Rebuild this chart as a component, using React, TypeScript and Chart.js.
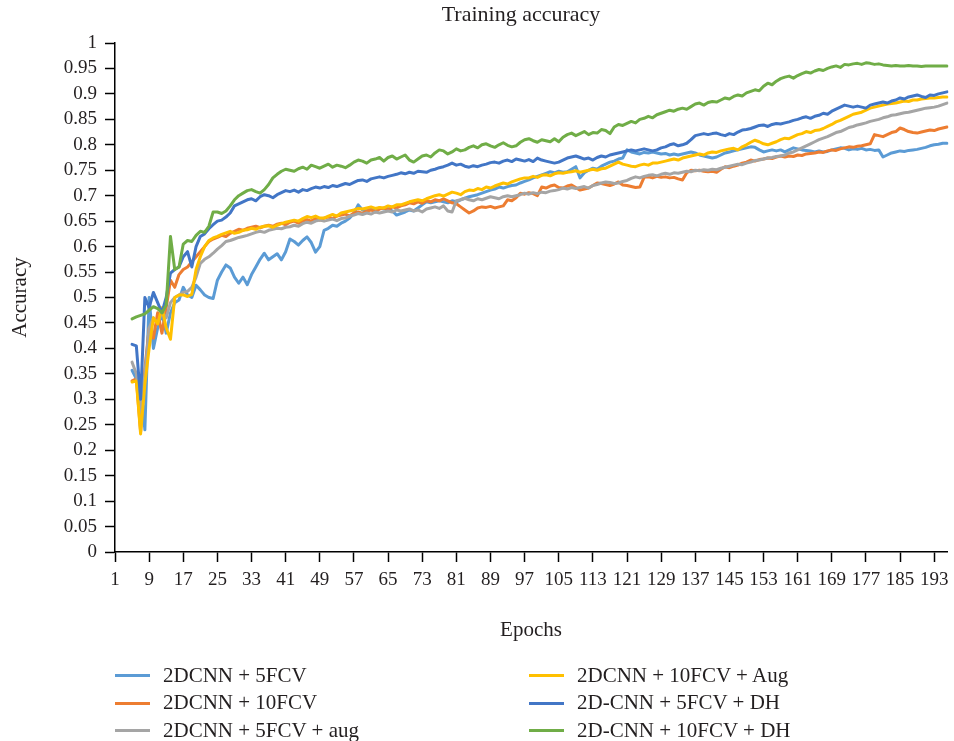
import React, { useEffect, useRef } from "react";
import { Chart, registerables } from "chart.js";

Chart.register(...registerables);

const TITLE = "Training accuracy";
const X_TITLE = "Epochs";
const Y_TITLE = "Accuracy";
const EPOCH_COUNT = 196;
const START_EPOCH = 5;
const EPOCH_LABELS = Array.from({ length: EPOCH_COUNT }, (_, i) => String(i + 1));

const SERIES_NAMES = [
  "2DCNN + 5FCV",
  "2DCNN + 10FCV",
  "2DCNN + 5FCV + aug",
  "2DCNN + 10FCV + Aug",
  "2D-CNN + 5FCV + DH",
  "2D-CNN + 10FCV + DH",
];
const SERIES_COLORS = ["#5B9BD5", "#ED7D31", "#A5A5A5", "#FFC000", "#4276C6", "#70AD47"];

// values for epochs 5..196
const CNN_5FCV = [
  0.357, 0.340, 0.330, 0.240, 0.500, 0.400, 0.440, 0.470, 0.430, 0.470,
  0.490, 0.495, 0.520, 0.505, 0.500, 0.524, 0.515, 0.505, 0.500, 0.498,
  0.534, 0.550, 0.564, 0.558, 0.540, 0.528, 0.540, 0.525, 0.545, 0.560,
  0.575, 0.587, 0.574, 0.580, 0.586, 0.574, 0.590, 0.615, 0.610, 0.603,
  0.612, 0.619, 0.608, 0.589, 0.600, 0.632, 0.636, 0.642, 0.640, 0.646,
  0.650, 0.656, 0.665, 0.682, 0.672, 0.670, 0.675, 0.672, 0.676, 0.674,
  0.675, 0.670, 0.662, 0.665, 0.668, 0.672, 0.670, 0.676, 0.682, 0.688,
  0.686, 0.688, 0.690, 0.688, 0.686, 0.690, 0.688, 0.692, 0.695, 0.698,
  0.700, 0.702, 0.705, 0.708, 0.711, 0.713, 0.717, 0.715, 0.718, 0.720,
  0.721, 0.725, 0.728, 0.731, 0.735, 0.738, 0.741, 0.744, 0.747, 0.745,
  0.748, 0.746, 0.747, 0.752, 0.757, 0.735, 0.745, 0.750, 0.754, 0.752,
  0.758, 0.762, 0.766, 0.768, 0.772, 0.774, 0.790, 0.786, 0.784, 0.782,
  0.785, 0.784, 0.786, 0.784, 0.782, 0.783, 0.780, 0.782, 0.780, 0.782,
  0.784, 0.786, 0.784, 0.780, 0.778, 0.776, 0.774, 0.776, 0.780, 0.784,
  0.786, 0.788, 0.790, 0.792, 0.794, 0.796, 0.795, 0.790, 0.786, 0.788,
  0.790, 0.788, 0.790, 0.786, 0.790, 0.794, 0.792, 0.790, 0.789, 0.788,
  0.786, 0.788, 0.786, 0.787, 0.790, 0.792, 0.794, 0.793, 0.790, 0.792,
  0.791, 0.793, 0.790, 0.791, 0.789, 0.790, 0.776, 0.780, 0.784, 0.786,
  0.788, 0.787, 0.789, 0.790, 0.791, 0.793, 0.795, 0.798, 0.800, 0.801,
  0.803, 0.803,
];

const CNN_10FCV = [
  0.336, 0.340, 0.236, 0.360, 0.440, 0.420, 0.470, 0.430, 0.480, 0.534,
  0.520, 0.545, 0.555, 0.560, 0.570, 0.580, 0.590, 0.600, 0.610, 0.615,
  0.618, 0.622, 0.620, 0.626, 0.630, 0.634, 0.632, 0.636, 0.638, 0.640,
  0.637, 0.640, 0.642, 0.640, 0.644, 0.646, 0.643, 0.648, 0.650, 0.646,
  0.650, 0.653, 0.650, 0.655, 0.652, 0.656, 0.658, 0.655, 0.660, 0.662,
  0.664, 0.660, 0.666, 0.668, 0.665, 0.670, 0.672, 0.668, 0.674, 0.676,
  0.672, 0.678, 0.676, 0.680, 0.682, 0.686, 0.684, 0.688, 0.685, 0.690,
  0.688, 0.692, 0.690, 0.694, 0.690, 0.686, 0.684, 0.678, 0.672, 0.666,
  0.670, 0.676, 0.678, 0.677, 0.679, 0.676, 0.678, 0.680, 0.692, 0.690,
  0.696, 0.705, 0.703, 0.706, 0.704, 0.700, 0.717, 0.715, 0.719, 0.721,
  0.716, 0.715, 0.719, 0.721, 0.716, 0.711, 0.713, 0.715, 0.720, 0.725,
  0.724, 0.722, 0.720, 0.723, 0.727, 0.721, 0.720, 0.718, 0.716, 0.717,
  0.736, 0.737, 0.735, 0.738, 0.736, 0.737, 0.735, 0.736, 0.733, 0.731,
  0.745, 0.750, 0.749, 0.750, 0.748, 0.747, 0.748, 0.746, 0.752, 0.757,
  0.755, 0.758, 0.760, 0.764, 0.766, 0.770, 0.768, 0.771, 0.772, 0.774,
  0.773, 0.776, 0.778, 0.776, 0.778, 0.777, 0.780, 0.779, 0.782, 0.783,
  0.784, 0.786, 0.785, 0.788, 0.790, 0.789, 0.792, 0.794, 0.796, 0.795,
  0.797, 0.798, 0.800, 0.802, 0.820, 0.818, 0.816, 0.820, 0.824, 0.826,
  0.833, 0.830, 0.826, 0.824, 0.823, 0.825, 0.827, 0.829, 0.828, 0.831,
  0.833, 0.835,
];

const CNN_5FCV_AUG = [
  0.373, 0.350, 0.270, 0.350, 0.440, 0.460, 0.450, 0.470, 0.460, 0.490,
  0.500, 0.505, 0.510, 0.512, 0.520, 0.540, 0.567, 0.575, 0.580, 0.587,
  0.595, 0.602, 0.610, 0.612, 0.615, 0.618, 0.620, 0.622, 0.625, 0.628,
  0.630, 0.628, 0.632, 0.634, 0.636, 0.635, 0.638, 0.639, 0.642, 0.640,
  0.645, 0.648, 0.646, 0.650, 0.652, 0.650, 0.652, 0.654, 0.651, 0.655,
  0.656, 0.660, 0.662, 0.665, 0.663, 0.666, 0.664, 0.668, 0.666, 0.668,
  0.670, 0.668, 0.672, 0.670, 0.672, 0.674, 0.670, 0.672, 0.668, 0.674,
  0.676, 0.678, 0.675, 0.680, 0.670, 0.668, 0.690, 0.692, 0.695, 0.692,
  0.690, 0.694, 0.692, 0.695, 0.698, 0.696, 0.694, 0.698, 0.700, 0.698,
  0.700, 0.702, 0.705, 0.703, 0.706, 0.704, 0.707, 0.706, 0.709, 0.710,
  0.712, 0.715, 0.713, 0.716, 0.714, 0.716, 0.718, 0.715, 0.720, 0.722,
  0.725, 0.727, 0.726, 0.724, 0.725, 0.728, 0.730, 0.734, 0.737, 0.735,
  0.738, 0.740, 0.741, 0.739, 0.742, 0.744, 0.742, 0.745, 0.744, 0.746,
  0.748, 0.747, 0.750, 0.749, 0.751, 0.750, 0.752, 0.751, 0.754, 0.756,
  0.758, 0.760, 0.762, 0.761, 0.764, 0.766, 0.769, 0.770, 0.772, 0.774,
  0.775, 0.777, 0.778, 0.780, 0.784, 0.786, 0.790, 0.794, 0.798, 0.802,
  0.806, 0.810, 0.813, 0.816, 0.820, 0.824, 0.826, 0.830, 0.834, 0.836,
  0.839, 0.841, 0.843, 0.846, 0.848, 0.850, 0.853, 0.855, 0.858, 0.859,
  0.861, 0.863, 0.864, 0.866, 0.868, 0.870, 0.872, 0.873, 0.874, 0.876,
  0.879, 0.882,
];

const CNN_10FCV_AUG = [
  0.334, 0.336, 0.232, 0.330, 0.400, 0.460, 0.448, 0.480, 0.440, 0.418,
  0.500, 0.505, 0.505, 0.502, 0.506, 0.555, 0.580, 0.600, 0.612, 0.617,
  0.620, 0.624, 0.627, 0.630, 0.626, 0.628, 0.632, 0.633, 0.636, 0.634,
  0.638, 0.640, 0.641, 0.638, 0.642, 0.645, 0.648, 0.650, 0.652, 0.650,
  0.655, 0.659, 0.657, 0.660, 0.656, 0.656, 0.660, 0.663, 0.660, 0.666,
  0.668, 0.670, 0.672, 0.675, 0.674, 0.676, 0.678, 0.675, 0.677, 0.676,
  0.680, 0.678, 0.682, 0.682, 0.685, 0.688, 0.690, 0.692, 0.690, 0.694,
  0.697, 0.700, 0.702, 0.699, 0.703, 0.707, 0.705, 0.702, 0.708, 0.711,
  0.710, 0.714, 0.712, 0.717, 0.715, 0.719, 0.722, 0.725, 0.723, 0.727,
  0.730, 0.733, 0.735, 0.735, 0.738, 0.736, 0.740, 0.741, 0.739, 0.743,
  0.745, 0.744, 0.746, 0.747, 0.749, 0.746, 0.748, 0.750, 0.752, 0.750,
  0.753, 0.754, 0.758, 0.762, 0.766, 0.762, 0.760, 0.758, 0.757, 0.760,
  0.762, 0.760, 0.764, 0.764, 0.766, 0.768, 0.770, 0.772, 0.770, 0.774,
  0.776, 0.778, 0.780, 0.782, 0.780, 0.784, 0.786, 0.785, 0.788, 0.790,
  0.792, 0.793, 0.790, 0.796, 0.800, 0.805, 0.809, 0.806, 0.802, 0.800,
  0.803, 0.806, 0.810, 0.813, 0.812, 0.816, 0.820, 0.822, 0.826, 0.824,
  0.828, 0.829, 0.832, 0.836, 0.840, 0.845, 0.848, 0.852, 0.856, 0.860,
  0.862, 0.864, 0.868, 0.872, 0.874, 0.876, 0.878, 0.880, 0.881, 0.882,
  0.884, 0.886, 0.885, 0.888, 0.888, 0.890, 0.891, 0.892, 0.892, 0.893,
  0.894, 0.894,
];

const CNN_5FCV_DH = [
  0.408, 0.405, 0.300, 0.500, 0.480, 0.510, 0.490, 0.470, 0.500, 0.548,
  0.555, 0.560, 0.580, 0.590, 0.560, 0.600, 0.620, 0.625, 0.635, 0.643,
  0.650, 0.652, 0.658, 0.666, 0.680, 0.684, 0.688, 0.692, 0.694, 0.690,
  0.698, 0.702, 0.700, 0.696, 0.702, 0.706, 0.710, 0.708, 0.711, 0.707,
  0.712, 0.710, 0.714, 0.717, 0.715, 0.718, 0.716, 0.720, 0.718, 0.721,
  0.724, 0.722, 0.726, 0.730, 0.731, 0.728, 0.733, 0.735, 0.737, 0.735,
  0.738, 0.740, 0.742, 0.745, 0.743, 0.746, 0.744, 0.748, 0.747, 0.746,
  0.750, 0.752, 0.755, 0.757, 0.760, 0.764, 0.760, 0.762, 0.758, 0.756,
  0.759, 0.757, 0.760, 0.762, 0.765, 0.766, 0.764, 0.768, 0.770, 0.767,
  0.772, 0.770, 0.768, 0.771, 0.767, 0.774, 0.770, 0.768, 0.766, 0.764,
  0.766, 0.770, 0.774, 0.776, 0.778, 0.775, 0.772, 0.774, 0.770, 0.775,
  0.778, 0.776, 0.780, 0.782, 0.784, 0.786, 0.788, 0.790, 0.788, 0.790,
  0.792, 0.790, 0.788, 0.790, 0.794, 0.796, 0.800, 0.802, 0.798, 0.800,
  0.803, 0.810, 0.818, 0.820, 0.822, 0.820, 0.822, 0.823, 0.820, 0.818,
  0.822, 0.820, 0.825, 0.829, 0.830, 0.832, 0.835, 0.838, 0.839, 0.836,
  0.840, 0.842, 0.841, 0.843, 0.845, 0.848, 0.850, 0.853, 0.855, 0.852,
  0.856, 0.858, 0.862, 0.860, 0.866, 0.870, 0.874, 0.878, 0.876, 0.874,
  0.876, 0.874, 0.872, 0.878, 0.880, 0.882, 0.884, 0.882, 0.886, 0.888,
  0.892, 0.890, 0.894, 0.896, 0.898, 0.895, 0.893, 0.898, 0.897, 0.900,
  0.902, 0.904,
];

const CNN_10FCV_DH = [
  0.458, 0.462, 0.465, 0.468, 0.475, 0.482, 0.478, 0.470, 0.485, 0.620,
  0.555, 0.560, 0.605, 0.612, 0.610, 0.622, 0.630, 0.628, 0.640, 0.668,
  0.668, 0.665, 0.670, 0.680, 0.692, 0.700, 0.705, 0.710, 0.712, 0.708,
  0.705, 0.712, 0.722, 0.735, 0.742, 0.748, 0.752, 0.750, 0.748, 0.753,
  0.756, 0.752, 0.760, 0.757, 0.754, 0.758, 0.762, 0.756, 0.760, 0.758,
  0.755, 0.760, 0.766, 0.770, 0.768, 0.764, 0.770, 0.772, 0.775, 0.768,
  0.775, 0.778, 0.772, 0.776, 0.780, 0.770, 0.766, 0.772, 0.778, 0.780,
  0.776, 0.784, 0.790, 0.788, 0.782, 0.786, 0.792, 0.788, 0.790, 0.795,
  0.798, 0.794, 0.800, 0.802, 0.798, 0.795, 0.800, 0.804, 0.799, 0.796,
  0.798, 0.805, 0.810, 0.812, 0.808, 0.805, 0.810, 0.808, 0.806, 0.812,
  0.806, 0.815, 0.820, 0.823, 0.818, 0.822, 0.826, 0.820, 0.824, 0.823,
  0.830, 0.828, 0.822, 0.835, 0.840, 0.838, 0.842, 0.846, 0.843, 0.850,
  0.852, 0.856, 0.853, 0.859, 0.862, 0.865, 0.868, 0.866, 0.870, 0.872,
  0.870, 0.875, 0.880, 0.882, 0.878, 0.883, 0.885, 0.884, 0.888, 0.892,
  0.890, 0.895, 0.898, 0.896, 0.902, 0.905, 0.908, 0.906, 0.915, 0.921,
  0.918, 0.925, 0.930, 0.933, 0.935, 0.931, 0.936, 0.940, 0.943, 0.941,
  0.945, 0.948, 0.946, 0.950, 0.953, 0.955, 0.952, 0.958, 0.957, 0.959,
  0.960, 0.958, 0.961, 0.960, 0.958, 0.959, 0.957, 0.956, 0.955, 0.956,
  0.955, 0.955, 0.956, 0.955, 0.955, 0.954, 0.955, 0.955, 0.955, 0.955,
  0.955, 0.955,
];

const SERIES_VALUES = [CNN_5FCV, CNN_10FCV, CNN_5FCV_AUG, CNN_10FCV_AUG, CNN_5FCV_DH, CNN_10FCV_DH];

const FONT = "'Liberation Serif', 'Times New Roman', serif";
const TEXT_COLOR = "#231f20";

function padData(values: number[]): (number | null)[] {
  const lead: (number | null)[] = Array(START_EPOCH - 1).fill(null);
  return lead.concat(values);
}

const titlePlugin = {
  id: "plotTitle",
  afterDraw(chart: any) {
    const { ctx, chartArea } = chart;
    ctx.save();
    ctx.font = `22px ${FONT}`;
    ctx.fillStyle = TEXT_COLOR;
    ctx.textAlign = "center";
    ctx.textBaseline = "middle";
    ctx.fillText(TITLE, (chartArea.left + chartArea.right) / 2 - 10, 15);
    ctx.restore();
  },
};

export default function App() {
  const canvasRef = useRef<HTMLCanvasElement | null>(null);

  useEffect(() => {
    if (!canvasRef.current) return;
    const chart = new Chart(canvasRef.current, {
      type: "line",
      data: {
        labels: EPOCH_LABELS,
        datasets: SERIES_NAMES.map((name, i) => ({
          label: name,
          data: padData(SERIES_VALUES[i]),
          borderColor: SERIES_COLORS[i],
          backgroundColor: SERIES_COLORS[i],
          borderWidth: 3,
          pointRadius: 0,
          pointHoverRadius: 0,
          tension: 0,
          fill: false,
          borderJoinStyle: "round" as const,
          borderCapStyle: "round" as const,
          order: SERIES_NAMES.length - 1 - i,
        })),
      },
      plugins: [titlePlugin],
      options: {
        responsive: false,
        animation: false,
        devicePixelRatio: 1,
        layout: { padding: { left: 0, right: 4, top: 43, bottom: 98 } },
        plugins: {
          legend: { display: false },
          tooltip: { enabled: false },
          title: { display: false },
        },
        scales: {
          x: {
            type: "category",
            offset: false,
            grid: {
              drawOnChartArea: false,
              drawTicks: true,
              tickLength: 10,
              tickWidth: 1.5,
              color: (ctx: any) => (ctx.index % 8 === 0 ? "#000" : "rgba(0,0,0,0)"),
              tickColor: (ctx: any) => (ctx.index % 8 === 0 ? "#000" : "rgba(0,0,0,0)"),
            },
            border: { display: true, color: "#000", width: 1.5 },
            ticks: {
              autoSkip: false,
              maxRotation: 0,
              minRotation: 0,
              padding: 7,
              color: TEXT_COLOR,
              font: { family: FONT, size: 19 },
              callback: (_v: any, idx: number) => (idx % 8 === 0 ? EPOCH_LABELS[idx] : ""),
            },
            title: {
              display: true,
              text: X_TITLE,
              color: TEXT_COLOR,
              font: { family: FONT, size: 21 },
              padding: { top: 0, bottom: 0 },
            },
            afterFit: (scale: any) => {
              scale.height = 91;
            },
          },
          y: {
            min: 0,
            max: 1,
            grid: {
              drawOnChartArea: false,
              drawTicks: true,
              tickLength: 10,
              tickWidth: 1.5,
              color: "#000",
            },
            border: { display: true, color: "#000", width: 1.5 },
            ticks: {
              stepSize: 0.05,
              autoSkip: false,
              padding: 8,
              color: TEXT_COLOR,
              font: { family: FONT, size: 19 },
              callback: (v: any) => String(Number(Number(v).toFixed(2))),
            },
            title: {
              display: true,
              text: Y_TITLE,
              color: TEXT_COLOR,
              font: { family: FONT, size: 21 },
              padding: { top: 8, bottom: 0 },
            },
            afterFit: (scale: any) => {
              scale.width = 115;
            },
          },
        },
      },
    });
    return () => chart.destroy();
  }, []);

  const legendRows = 3;
  return (
    <div style={{ position: "fixed", left: 0, top: 0, width: 954, height: 741, background: "#fff" }}>
      <canvas ref={canvasRef} width={954} height={741} style={{ width: 954, height: 741, display: "block" }} />
      {SERIES_NAMES.map((name, i) => {
        const col = Math.floor(i / legendRows);
        const row = i % legendRows;
        const lineLeft = col === 0 ? 115 : 529;
        const textLeft = col === 0 ? 163 : 577;
        const cy = 675.5 + row * 27.5;
        return (
          <React.Fragment key={name}>
            <div
              style={{
                position: "absolute",
                left: lineLeft,
                top: cy - 1.5,
                width: 35,
                height: 3,
                background: SERIES_COLORS[i],
              }}
            />
            <div
              style={{
                position: "absolute",
                left: textLeft,
                top: cy - 11,
                fontFamily: FONT,
                fontSize: 21,
                lineHeight: "21px",
                color: TEXT_COLOR,
                whiteSpace: "nowrap",
              }}
            >
              {name}
            </div>
          </React.Fragment>
        );
      })}
    </div>
  );
}
